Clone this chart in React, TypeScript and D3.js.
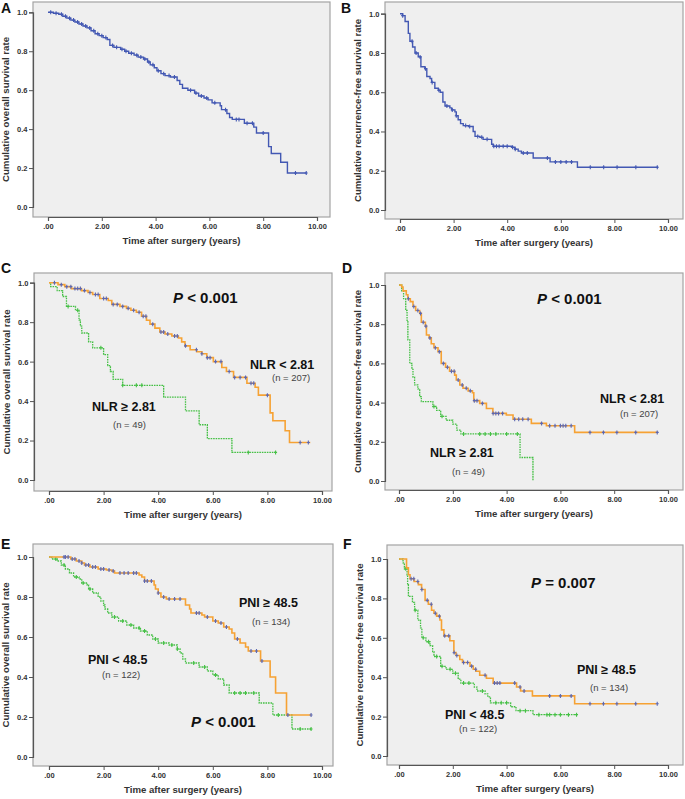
import React, { useEffect, useRef } from "react";
import * as d3 from "d3";

const timeTicks = [0, 2, 4, 6, 8, 10];
const rateTicks = [0, 0.2, 0.4, 0.6, 0.8, 1.0];

// Kaplan-Meier steps: [time in years, survival from that time on]; last pair = end of follow-up
const osAll = [[0,1],[0.2,0.995],[0.4,0.99],[0.55,0.98],[0.7,0.97],[0.85,0.96],[1.0,0.95],[1.15,0.94],[1.3,0.93],[1.45,0.92],[1.6,0.905],[1.75,0.89],[1.9,0.88],[2.05,0.87],[2.2,0.86],[2.3,0.83],[2.45,0.82],[2.7,0.81],[2.85,0.8],[3.0,0.79],[3.2,0.78],[3.35,0.77],[3.55,0.76],[3.7,0.745],[3.8,0.73],[3.95,0.715],[4.05,0.7],[4.2,0.685],[4.35,0.675],[4.55,0.668],[4.8,0.65],[4.9,0.63],[5.0,0.61],[5.2,0.6],[5.45,0.585],[5.6,0.57],[5.8,0.56],[5.95,0.55],[6.1,0.535],[6.4,0.52],[6.45,0.5],[6.65,0.48],[6.75,0.46],[6.85,0.45],[7.3,0.43],[7.65,0.41],[7.75,0.38],[8.2,0.31],[8.3,0.275],[8.65,0.23],[8.9,0.175],[9.6,0.175]];
const osAllCensored = [0.1,0.3,0.5,0.65,0.8,0.95,1.1,1.25,1.4,1.55,1.7,1.85,2.0,2.15,2.4,2.55,2.75,2.9,3.1,3.3,3.45,3.6,3.75,3.9,4.1,4.3,4.5,4.7,5.3,5.5,5.7,5.9,6.2,6.6,7.0,7.1,7.4,7.6,8.0,9.2,9.6];

const rfsAll = [[0,1],[0.1,0.99],[0.19,0.96],[0.31,0.9],[0.37,0.86],[0.47,0.83],[0.56,0.8],[0.68,0.78],[0.78,0.73],[0.93,0.72],[1.0,0.68],[1.12,0.67],[1.18,0.65],[1.3,0.62],[1.43,0.61],[1.5,0.6],[1.6,0.55],[1.68,0.53],[1.86,0.52],[1.93,0.51],[2.05,0.5],[2.1,0.48],[2.17,0.46],[2.26,0.44],[2.36,0.43],[2.55,0.425],[2.73,0.4],[2.8,0.375],[2.98,0.37],[3.1,0.36],[3.42,0.335],[3.48,0.325],[4.16,0.32],[4.29,0.31],[4.41,0.3],[4.53,0.29],[4.97,0.265],[5.6,0.245],[6.62,0.218],[9.63,0.218]];
const rfsAllCensored = [0.1,0.45,0.6,0.75,0.95,1.2,1.45,1.75,1.95,2.1,2.45,2.6,2.9,3.05,3.25,3.5,3.6,3.7,3.85,4.0,4.2,4.3,4.6,4.75,5.5,5.8,6.0,6.2,6.4,7.1,7.6,8.1,8.8,9.6];

const osNlrLow = [[0,1],[0.33,0.99],[0.58,0.98],[0.82,0.97],[1.19,0.96],[1.43,0.95],[1.6,0.94],[1.86,0.92],[2.17,0.91],[2.3,0.89],[2.6,0.88],[2.84,0.87],[3.0,0.86],[3.2,0.85],[3.39,0.83],[3.57,0.81],[3.7,0.79],[3.88,0.77],[4.06,0.75],[4.25,0.74],[4.5,0.73],[4.74,0.72],[4.86,0.7],[4.98,0.68],[5.17,0.66],[5.41,0.65],[5.6,0.64],[5.78,0.62],[6.02,0.6],[6.33,0.57],[6.5,0.55],[6.76,0.52],[7.25,0.49],[7.55,0.47],[7.67,0.43],[8.1,0.34],[8.2,0.3],[8.65,0.25],[8.81,0.19],[9.57,0.19]];
const osNlrLowCensored = [0.2,0.45,0.65,0.8,0.95,1.05,1.15,1.3,1.5,1.7,1.8,2.0,2.1,2.35,2.5,2.7,2.9,3.1,3.3,3.45,3.55,3.8,4.1,4.2,4.35,4.6,4.7,5.0,5.4,5.6,5.8,5.9,6.1,6.3,6.6,6.8,7.0,7.2,7.4,7.5,8.0,9.2,9.5];
const osNlrHigh = [[0,1],[0.06,0.98],[0.3,0.96],[0.5,0.93],[0.64,0.88],[0.97,0.86],[1.1,0.81],[1.15,0.78],[1.2,0.745],[1.45,0.7],[1.6,0.67],[2.0,0.635],[2.15,0.58],[2.25,0.55],[2.35,0.51],[2.7,0.48],[4.2,0.42],[5.0,0.35],[5.5,0.28],[5.8,0.21],[6.7,0.14],[8.3,0.14]];
const osNlrHighCensored = [0.7,1.05,1.9,2.7,3.2,3.4,7.3,8.3];

const rfsNlrLow = [[0,1],[0.1,0.99],[0.15,0.97],[0.27,0.95],[0.33,0.93],[0.42,0.915],[0.52,0.89],[0.62,0.87],[0.77,0.855],[0.83,0.81],[0.98,0.79],[1.02,0.745],[1.12,0.73],[1.2,0.7],[1.3,0.68],[1.45,0.66],[1.57,0.6],[1.73,0.58],[1.88,0.56],[2.07,0.54],[2.13,0.515],[2.26,0.49],[2.38,0.473],[2.57,0.46],[2.73,0.45],[2.78,0.41],[3.0,0.396],[3.25,0.37],[3.49,0.345],[3.99,0.337],[4.24,0.315],[4.92,0.294],[5.48,0.282],[6.53,0.248],[9.63,0.248]];
const rfsNlrLowCensored = [0.35,0.55,0.7,0.8,0.9,1.0,1.15,1.35,1.5,1.65,1.8,1.95,2.05,2.2,2.35,2.5,2.65,2.8,2.9,3.1,3.5,3.6,3.7,3.85,4.3,4.45,4.6,4.8,5.3,5.6,5.8,6.0,6.1,6.2,6.4,7.1,7.6,8.1,8.8,9.6];
const rfsNlrHigh = [[0,1],[0.1,0.97],[0.17,0.93],[0.25,0.87],[0.3,0.82],[0.33,0.72],[0.4,0.6],[0.48,0.57],[0.52,0.53],[0.58,0.49],[0.7,0.47],[0.77,0.43],[0.83,0.405],[1.26,0.38],[1.4,0.36],[1.55,0.33],[1.75,0.31],[2.0,0.29],[2.15,0.26],[2.3,0.24],[4.5,0.12],[4.98,0.0]];
const rfsNlrHighCensored = [1.3,1.6,2.4,3.0,3.2,3.4,3.6,4.0,4.4];

const osPniHigh = [[0,1],[0.8,0.99],[1.0,0.98],[1.2,0.97],[1.3,0.96],[1.5,0.95],[1.8,0.94],[2.1,0.935],[2.3,0.93],[2.4,0.92],[3.3,0.91],[3.4,0.9],[3.5,0.88],[3.85,0.86],[3.9,0.84],[4.0,0.82],[4.1,0.8],[4.3,0.79],[5.0,0.76],[5.15,0.74],[5.2,0.72],[5.6,0.71],[5.7,0.7],[6.0,0.68],[6.2,0.67],[6.4,0.65],[6.6,0.64],[6.7,0.62],[6.8,0.59],[7.0,0.57],[7.2,0.55],[7.3,0.53],[7.75,0.48],[8.1,0.4],[8.3,0.32],[8.7,0.21],[9.6,0.21]];
const osPniHighCensored = [0.55,0.6,0.7,0.85,0.95,1.1,1.2,1.35,1.45,1.6,1.7,1.9,2.0,2.2,2.35,2.6,2.75,2.9,3.1,3.2,3.5,3.6,3.75,4.0,4.2,4.4,4.6,4.8,5.4,5.5,5.8,6.1,6.3,6.5,6.9,7.4,7.6,7.8,8.75,9.6];
const osPniLow = [[0,1],[0.1,0.99],[0.3,0.98],[0.45,0.96],[0.6,0.94],[0.75,0.92],[0.9,0.9],[1.1,0.89],[1.2,0.87],[1.4,0.86],[1.45,0.84],[1.6,0.82],[1.8,0.8],[1.9,0.78],[2.0,0.76],[2.05,0.74],[2.15,0.72],[2.3,0.7],[2.55,0.68],[2.85,0.66],[3.1,0.645],[3.35,0.63],[3.6,0.61],[3.8,0.59],[4.0,0.57],[4.4,0.56],[4.7,0.54],[4.8,0.52],[4.9,0.49],[5.0,0.47],[5.5,0.45],[5.8,0.43],[6.0,0.41],[6.2,0.39],[6.4,0.36],[6.6,0.32],[7.7,0.27],[8.2,0.21],[8.9,0.14],[9.6,0.14]];
const osPniLowCensored = [0.25,0.55,1.0,1.25,1.5,2.4,2.7,3.0,3.3,3.5,3.9,4.2,4.5,4.7,5.3,5.7,6.1,6.8,7.0,7.2,7.5,8.4,9.2,9.6];

const rfsPniHigh = [[0,1],[0.28,0.955],[0.35,0.92],[0.41,0.9],[0.56,0.886],[0.72,0.87],[0.84,0.845],[0.97,0.79],[1.09,0.77],[1.21,0.74],[1.3,0.725],[1.4,0.71],[1.52,0.69],[1.58,0.64],[1.67,0.61],[1.89,0.585],[2.04,0.525],[2.12,0.51],[2.26,0.49],[2.36,0.475],[2.64,0.456],[2.76,0.44],[2.86,0.43],[3.0,0.41],[3.25,0.395],[3.5,0.37],[4.37,0.35],[4.52,0.33],[4.96,0.305],[6.53,0.265],[9.57,0.265]];
const rfsPniHighCensored = [0.45,0.55,0.7,0.85,1.05,1.2,1.35,1.5,1.7,1.85,2.05,2.15,2.4,2.55,2.7,2.85,3.2,3.55,3.65,3.75,4.3,4.5,4.65,5.6,6.0,6.4,7.1,7.6,8.1,8.8,9.6];
const rfsPniLow = [[0,1],[0.15,0.98],[0.2,0.95],[0.3,0.92],[0.32,0.87],[0.35,0.81],[0.5,0.78],[0.58,0.74],[0.7,0.69],[0.8,0.65],[0.85,0.6],[1.0,0.58],[1.15,0.56],[1.25,0.53],[1.3,0.505],[1.55,0.455],[1.75,0.44],[2.0,0.42],[2.2,0.39],[2.3,0.37],[2.8,0.35],[2.9,0.33],[3.2,0.315],[3.3,0.3],[3.4,0.27],[4.15,0.25],[4.35,0.23],[4.98,0.21],[6.6,0.21]];
const rfsPniLowCensored = [0.25,0.6,0.9,1.1,1.4,1.6,1.9,2.1,2.4,2.6,3.1,3.6,3.8,4.0,4.5,4.7,5.2,5.5,5.6,5.8,6.0,6.3,6.6];

const BLUE = "#4358b3";
const ORANGE = "#f6a234";
const GREEN = "#45c045";
const MARK = "#5c68b4";
const FONT = "'Liberation Sans', Arial, sans-serif";
const OS_TITLE = "Cumulative overall survival rate";
const RFS_TITLE = "Cumulative recurrence-free survival rate";

const solid = (data, cens) => ({ data, cens, color: BLUE, mark: BLUE, dotted: false, width: 1.4 });
const good = (data, cens) => ({ data, cens, color: ORANGE, mark: MARK, dotted: false, width: 1.6 });
const poor = (data, cens) => ({ data, cens, color: GREEN, mark: GREEN, dotted: true, width: 1.3 });

const panels = [
	{ letter: "A", lp: [1, 13], frame: [33, 2, 330, 217], xr: [48, 317], yr: [207, 12.3], yt: OS_TITLE, ytw: 145, curves: [solid(osAll, osAllCensored)], notes: [] },
	{ letter: "B", lp: [341, 13], frame: [385, 2, 683, 219], xr: [400, 668], yr: [210, 13.7], yt: RFS_TITLE, ytw: 183, curves: [solid(rfsAll, rfsAllCensored)], notes: [] },
	{
		letter: "C", lp: [1, 273], frame: [34, 273, 332, 491], xr: [49, 322], yr: [480, 282.7], yt: OS_TITLE, ytw: 145,
		curves: [poor(osNlrHigh, osNlrHighCensored), good(osNlrLow, osNlrLowCensored)],
		notes: [["p", "< 0.001", 173, 303], ["g", "NLR < 2.81", 250, 368.5], ["n", "(n = 207)", 272, 380.5], ["g", "NLR ≥ 2.81", 92, 410.5], ["n", "(n = 49)", 113, 427.5]],
	},
	{
		letter: "D", lp: [342, 273], frame: [385, 273, 683, 490], xr: [399, 668], yr: [481, 285], yt: RFS_TITLE, ytw: 183,
		curves: [poor(rfsNlrHigh, rfsNlrHighCensored), good(rfsNlrLow, rfsNlrLowCensored)],
		notes: [["p", "< 0.001", 537, 304], ["g", "NLR < 2.81", 600, 402.5], ["n", "(n = 207)", 620, 416.5], ["g", "NLR ≥ 2.81", 430, 456.5], ["n", "(n = 49)", 452, 474.5]],
	},
	{
		letter: "E", lp: [1, 549], frame: [33, 544, 333, 766], xr: [49, 322], yr: [757, 557], yt: OS_TITLE, ytw: 145,
		curves: [poor(osPniLow, osPniLowCensored), good(osPniHigh, osPniHighCensored)],
		notes: [["g", "PNI ≥ 48.5", 239, 606.5], ["n", "(n = 134)", 252, 624.5], ["g", "PNI < 48.5", 88, 663.5], ["n", "(n = 122)", 102, 677.5], ["p", "< 0.001", 191, 727]],
	},
	{
		letter: "F", lp: [343, 549], frame: [387, 545, 683, 765], xr: [399, 668], yr: [756, 559], yt: RFS_TITLE, ytw: 183,
		curves: [poor(rfsPniLow, rfsPniLowCensored), good(rfsPniHigh, rfsPniHighCensored)],
		notes: [["p", "= 0.007", 531, 588], ["g", "PNI ≥ 48.5", 577, 673.5], ["n", "(n = 134)", 590, 690.5], ["g", "PNI < 48.5", 445, 718.5], ["n", "(n = 122)", 459, 731.5]],
	},
];

const stepValue = (data, t) => {
	const i = d3.bisector((d) => d[0]).right(data, t) - 1;
	return data[Math.max(0, i)][1];
};

export default function App() {
	const ref = useRef(null);

	useEffect(() => {
		const svg = d3.select(ref.current);
		svg.selectAll("*").remove();
		svg.append("rect").attr("width", 685).attr("height", 799).attr("fill", "#fff");

		panels.forEach((p) => {
			const [fx0, fy0, fx1, fy1] = p.frame;
			const x = d3.scaleLinear().domain([0, 10]).range(p.xr);
			const y = d3.scaleLinear().domain([0, 1]).range(p.yr);
			const g = svg.append("g").attr("font-family", FONT);

			g.append("rect")
				.attr("x", fx0).attr("y", fy0).attr("width", fx1 - fx0).attr("height", fy1 - fy0)
				.attr("fill", "#efefef").attr("stroke", "#a3a3a3").attr("stroke-width", 1.2);

			const yAxis = g.append("g").attr("transform", `translate(${fx0},0)`)
				.call(d3.axisLeft(y).tickValues(rateTicks).tickFormat(d3.format(".1f")).tickSize(4).tickPadding(1.5));
			const xAxis = g.append("g").attr("transform", `translate(0,${fy1})`)
				.call(d3.axisBottom(x).tickValues(timeTicks).tickFormat((d) => (d === 0 ? ".00" : d3.format(".2f")(d))).tickSize(4).tickPadding(3));
			[yAxis, xAxis].forEach((a) => {
				a.select(".domain").attr("stroke", "#555").attr("stroke-width", 1.2);
				a.selectAll(".tick line").attr("stroke", "#555");
				a.selectAll(".tick text").attr("font-size", 7.5).attr("font-weight", "bold").attr("fill", "#333").attr("font-family", FONT);
			});

			const line = d3.line().x((d) => x(d[0])).y((d) => y(d[1])).curve(d3.curveStepAfter);
			p.curves.forEach((c) => {
				g.append("path").datum(c.data)
					.attr("fill", "none").attr("stroke", c.color).attr("stroke-width", c.width)
					.attr("stroke-dasharray", c.dotted ? "1.6,0.9" : null)
					.attr("d", line);
				c.cens.forEach((t) => {
					const cx = x(t);
					const cy = y(stepValue(c.data, t));
					g.append("path")
						.attr("d", `M${cx},${cy - 2}V${cy + 2}M${cx - 1.5},${cy}H${cx + 1.5}`)
						.attr("stroke", c.mark).attr("stroke-width", 1.1).attr("fill", "none");
				});
			});

			g.append("text")
				.attr("x", (fx0 + fx1) / 2).attr("y", fy1 + 27)
				.attr("text-anchor", "middle").attr("font-size", 9.5).attr("font-weight", "bold").attr("fill", "#333")
				.attr("textLength", 118).attr("lengthAdjust", "spacingAndGlyphs")
				.text("Time after surgery (years)");

			const ycx = fx0 - 27;
			const ycy = (fy0 + fy1) / 2;
			g.append("text")
				.attr("transform", `translate(${ycx + 3},${ycy}) rotate(-90)`)
				.attr("text-anchor", "middle").attr("font-size", 8.5).attr("font-weight", "bold").attr("fill", "#333")
				.attr("textLength", p.ytw).attr("lengthAdjust", "spacingAndGlyphs")
				.text(p.yt);

			g.append("text")
				.attr("x", p.lp[0]).attr("y", p.lp[1])
				.attr("font-size", 14).attr("font-weight", "bold").attr("fill", "#111")
				.text(p.letter);

			p.notes.forEach(([kind, txt, nx, ny]) => {
				const t = g.append("text").attr("x", nx).attr("y", ny).attr("fill", kind === "n" ? "#444" : "#111");
				if (kind === "p") {
					t.attr("font-size", 15).attr("font-weight", "bold");
					t.append("tspan").attr("font-style", "italic").text("P");
					t.append("tspan").text(" " + txt);
				} else if (kind === "g") {
					t.attr("font-size", 12.5).attr("font-weight", "bold").text(txt);
				} else {
					t.attr("font-size", 9.5).text(txt);
				}
			});
		});
	}, []);

	return <svg ref={ref} width={685} height={799} style={{ position: "absolute", left: 0, top: 0 }} />;
}
